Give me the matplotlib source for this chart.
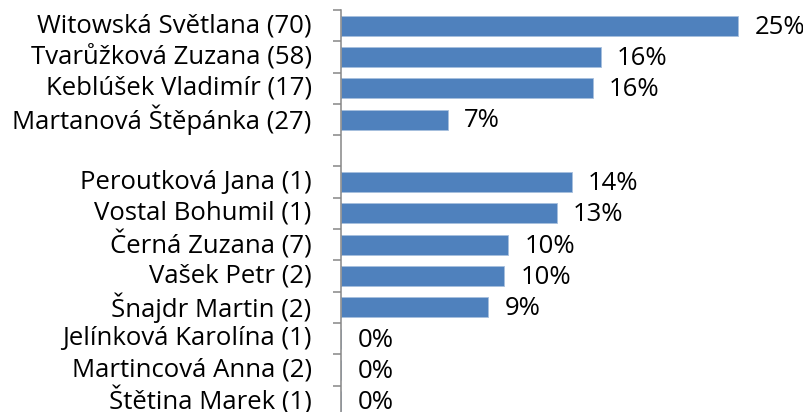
import matplotlib
matplotlib.use("Agg")
import matplotlib.pyplot as plt
from matplotlib.ticker import FixedLocator

plt.rcParams['font.family'] = ['Open Sans', 'DejaVu Sans']

# Two groups of people, separated by an empty row
group_a_names = ["Witowská Světlana (70)", "Tvarůžková Zuzana (58)",
                 "Keblúšek Vladimír (17)", "Martanová Štěpánka (27)"]
group_a_values = [0.246, 0.161, 0.156, 0.066]

group_b_names = ["Peroutková Jana (1)", "Vostal Bohumil (1)", "Černá Zuzana (7)",
                 "Vašek Petr (2)", "Šnajdr Martin (2)", "Jelínková Karolína (1)",
                 "Martincová Anna (2)", "Štětina Marek (1)"]
group_b_values = [0.143, 0.1335, 0.1035, 0.101, 0.091, 0.0, 0.0, 0.0]

names = group_a_names + [""] + group_b_names
positions_a = list(range(len(group_a_names)))
positions_b = [len(group_a_names) + 1 + i for i in range(len(group_b_names))]

W, H, DPI = 804, 412, 100
FS = 18.5
fig = plt.figure(figsize=(W / DPI, H / DPI), dpi=DPI)
left_px, top_px = 341.5, 10
ax = fig.add_axes([left_px / W, 0, (W - left_px) / W, (H - top_px) / H])

bar_color = "#4F81BD"
edge_color = "#A7BFDE"
for pos, vals in ((positions_a, group_a_values), (positions_b, group_b_values)):
    ax.barh(pos, vals, height=0.64, color=bar_color,
            edgecolor=edge_color, linewidth=0.6)
    for y, v in zip(pos, vals):
        ax.annotate(f"{round(v * 100):.0f}%", xy=(v, y), xytext=(11.5, -1),
                    textcoords="offset points", ha="left", va="center",
                    fontsize=FS, color="black")

pitch_px = 31.3
n_visible = (H - top_px) / pitch_px
ax.set_ylim(-0.5 + n_visible, -0.5)
ax.set_xlim(0, (W - left_px) / 1613)

ax.set_yticks(range(len(names)))
ax.set_yticklabels(names, fontsize=FS, va="center")
ax.yaxis.set_minor_locator(FixedLocator([i - 0.5 for i in range(len(names) + 1)]))
ax.tick_params(axis="y", which="major", length=0, pad=21.5)
ax.tick_params(axis="y", which="minor", length=5.8, width=1.1, color="#868686")
ax.set_xticks([])

for side in ("top", "right", "bottom"):
    ax.spines[side].set_visible(False)
ax.spines["left"].set_color("#868686")
ax.spines["left"].set_linewidth(1.1)

fig.savefig("out.png", dpi=DPI)
